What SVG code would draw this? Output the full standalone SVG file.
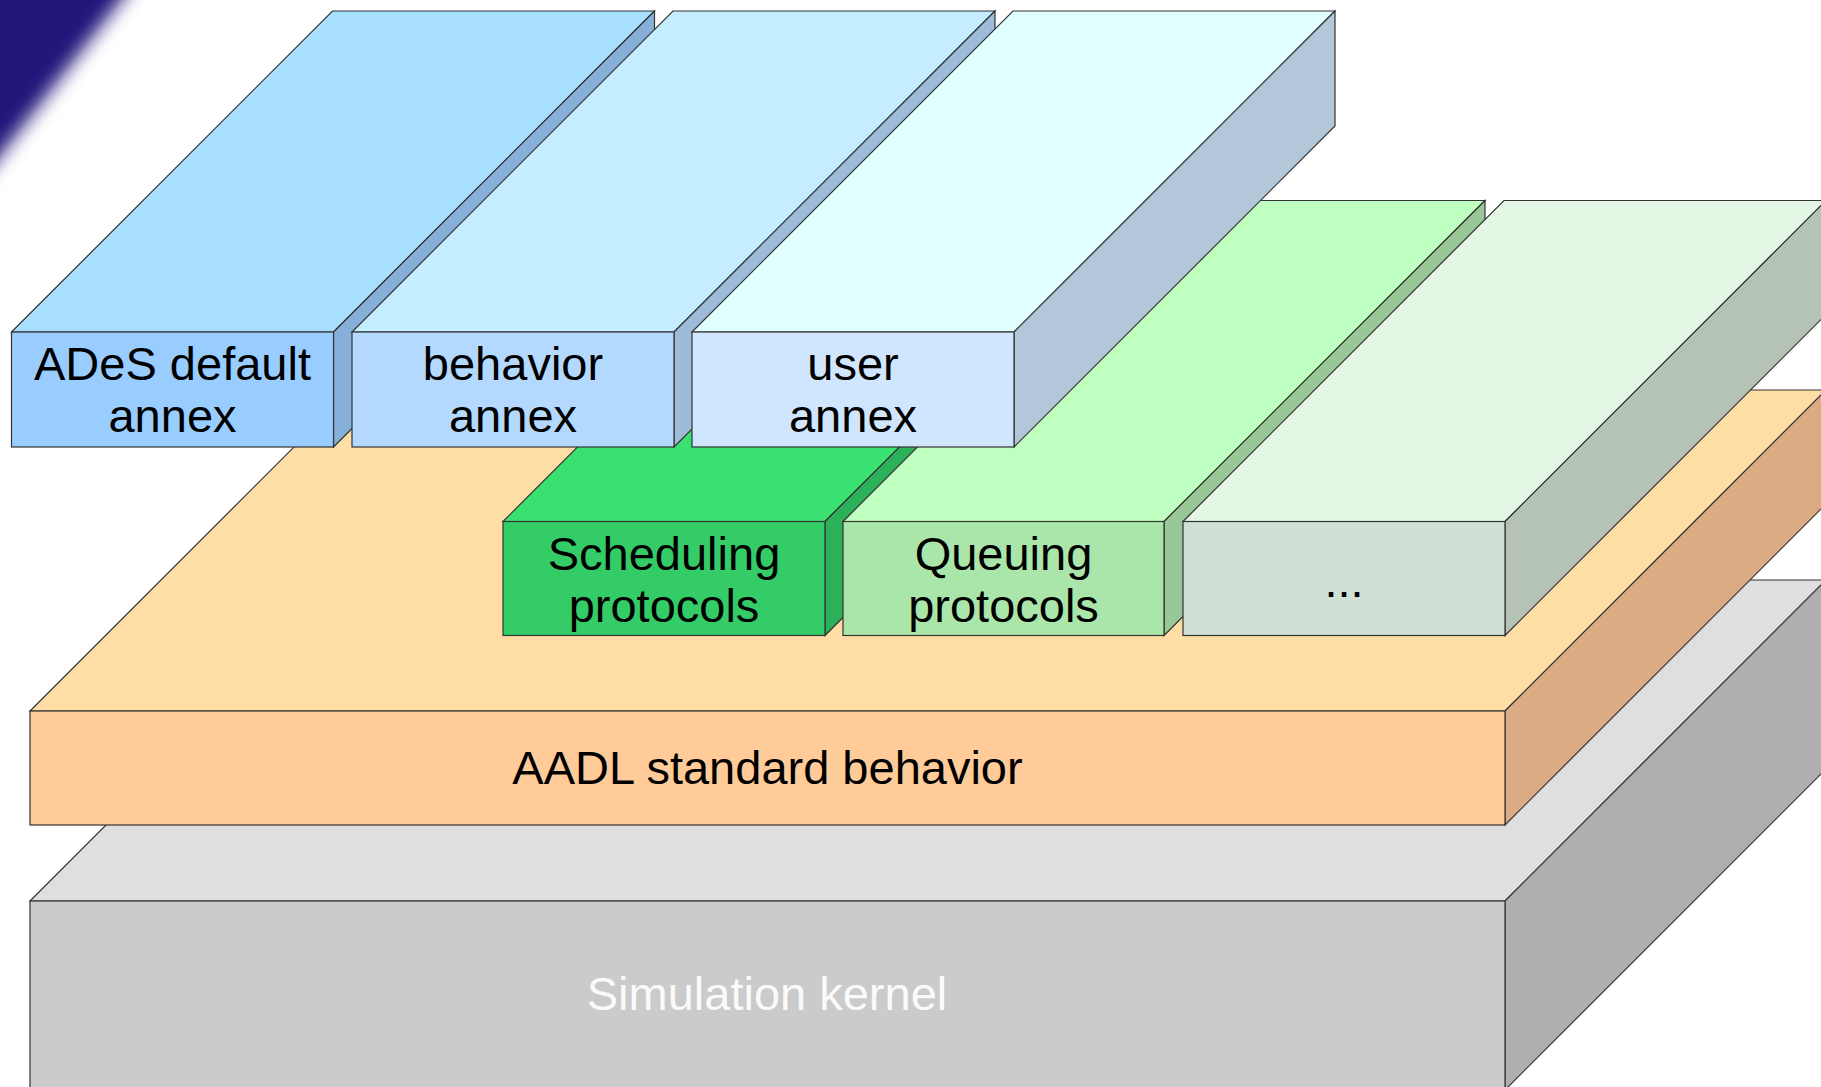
<svg xmlns="http://www.w3.org/2000/svg" width="1821" height="1087" viewBox="0 0 1821 1087">
  <defs>
    <filter id="blur" x="-50%" y="-50%" width="200%" height="200%">
      <feGaussianBlur stdDeviation="9"/>
    </filter>
    <style>
      .f { stroke: #333333; stroke-width: 1.2; stroke-linejoin: miter; }
      .t { font-family: "Liberation Sans", Arial, sans-serif; font-size: 47px; fill: #000000; text-anchor: middle; }
      .w { fill: #fafafa; }
    </style>
  </defs>
  <rect x="0" y="0" width="1821" height="1087" fill="#ffffff"/>
  <polygon points="-50,-50 160,-50 -50,220" fill="#23197a" filter="url(#blur)"/>

  <g id="simulation-kernel">
    <polygon class="f" points="30,901 351,580 1826,580 1505,901" fill="#dfdfdf"/>
    <polygon class="f" points="1505,901 1826,580 1826,769 1505,1090" fill="#afafaf"/>
    <rect class="f" x="30" y="901" width="1475" height="189" fill="#cbcbcb"/>
    <text class="t w" x="767" y="1010">Simulation kernel</text>
  </g>

  <g id="aadl-standard-behavior">
    <polygon class="f" points="30,711 351,390 1826,390 1505,711" fill="#ffdea6"/>
    <polygon class="f" points="1505,711 1826,390 1826,504 1505,825" fill="#dbac83"/>
    <rect class="f" x="30" y="711" width="1475" height="114" fill="#ffcb98"/>
    <text class="t" x="767.5" y="784">AADL standard behavior</text>
  </g>

  <g id="scheduling-protocols">
    <polygon class="f" points="503,521.5 824,200.5 1146,200.5 825,521.5" fill="#3ae070"/>
    <polygon class="f" points="825,521.5 1146,200.5 1146,314.5 825,635.5" fill="#2db05a"/>
    <rect class="f" x="503" y="521.5" width="322" height="114" fill="#33cc66"/>
    <text class="t" x="664" y="570">Scheduling</text>
    <text class="t" x="664" y="622">protocols</text>
  </g>

  <g id="queuing-protocols">
    <polygon class="f" points="843,521.5 1164,200.5 1485,200.5 1164,521.5" fill="#bfffc0"/>
    <polygon class="f" points="1164,521.5 1485,200.5 1485,314.5 1164,635.5" fill="#98c898"/>
    <rect class="f" x="843" y="521.5" width="321" height="114" fill="#aae6aa"/>
    <text class="t" x="1003.5" y="570">Queuing</text>
    <text class="t" x="1003.5" y="622">protocols</text>
  </g>

  <g id="other-protocols">
    <polygon class="f" points="1183,521.5 1504,200.5 1826,200.5 1505,521.5" fill="#e4f7e4"/>
    <polygon class="f" points="1505,521.5 1826,200.5 1826,314.5 1505,635.5" fill="#b4c3b5"/>
    <rect class="f" x="1183" y="521.5" width="322" height="114" fill="#d0e0d4"/>
    <text class="t" x="1344" y="596.5">...</text>
  </g>

  <g id="ades-default-annex">
    <polygon class="f" points="11.5,332 332.5,11 654.5,11 333.5,332" fill="#a7dffd"/>
    <polygon class="f" points="333.5,332 654.5,11 654.5,126 333.5,447" fill="#86b0d9"/>
    <rect class="f" x="11.5" y="332" width="322" height="115" fill="#99ccff"/>
    <text class="t" x="172.5" y="380">ADeS default</text>
    <text class="t" x="172.5" y="432">annex</text>
  </g>

  <g id="behavior-annex">
    <polygon class="f" points="352,332 673,11 995,11 674,332" fill="#c4eeff"/>
    <polygon class="f" points="674,332 995,11 995,126 674,447" fill="#9ebcd9"/>
    <rect class="f" x="352" y="332" width="322" height="115" fill="#b3d9ff"/>
    <text class="t" x="513" y="380">behavior</text>
    <text class="t" x="513" y="432">annex</text>
  </g>

  <g id="user-annex">
    <polygon class="f" points="692,332 1013,11 1335,11 1014,332" fill="#e0ffff"/>
    <polygon class="f" points="1014,332 1335,11 1335,126 1014,447" fill="#b3c7da"/>
    <rect class="f" x="692" y="332" width="322" height="115" fill="#d0e6ff"/>
    <text class="t" x="853" y="380">user</text>
    <text class="t" x="853" y="432">annex</text>
  </g>

  <g id="connectors"/>
</svg>
